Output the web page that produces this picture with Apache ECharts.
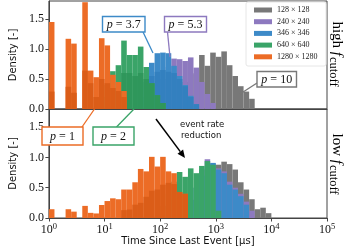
<!DOCTYPE html>
<html><head><meta charset="utf-8">
<script src="https://cdn.jsdelivr.net/npm/echarts@6/dist/echarts.min.js"></script>
<style>html,body{margin:0;padding:0;background:#fff}#c{width:349px;height:249px}</style>
</head><body><div id="c"></div>
<script>
// bins: 10 log-spaced bins per decade, bin k spans 10^(k/10) .. 10^((k+1)/10)
const binsPerDecade = 10;
const xTickValues = [1, 10, 100, 1000, 10000, 100000];
const yTickValues = [0, 0.5, 1.0, 1.5];
const legendNames = ['128 × 128', '240 × 240', '346 × 346', '640 × 640', '1280 × 1280'];

// ---- top panel (high f_cutoff) ----
const topGrayStart = 22;
const topGray = [0.15, 0.3, 0.45, 0.58, 0.6, 0.9, 0.72, 0.94, 0.87, 0.96, 0.73, 0.55, 0.38, 0.29, 0.17];
const topPurpleStart = 19;
const topPurple = [0.3, 0.5, 0.7, 0.84, 0.83, 0.8, 0.86, 0.69, 0.45, 0.25, 0.1];
const topBlueStart = 16;
const topBlue = [0.2, 0.45, 0.77, 0.93, 0.94, 0.93, 0.72, 0.55, 0.4, 0.22, 0.08];
const topBlueDarkStart = 18;
const topBlueDark = [0.55, 0.62, 0.65, 0.62, 0.6, 0.5, 0.38, 0.2, 0.08];
const topGreenStart = 9;
const topGreen = [0.2, 0.4, 0.63, 0.73, 1.14, 0.9, 0.9, 1.04, 0.7, 0.43, 0.23, 0.1];
const topGreenDarkStart = 13;
const topGreenDark = [0.6, 0.6, 0.55, 0.6, 0.5, 0.43, 0.23, 0.1];
const topOrangeStart = 0;
const topOrange = [1.45, 0, 0, 1.17, 1.09, 0, 1.78, 0.64, 0.53, 1.18, 1.06, 0.57, 0.45, 0.3];
const topOrangeDark = [0.29, 0, 0, 0.37, 0.27, 0, 0.64, 0.43, 0.2, 0.5, 0.43, 0.35, 0.3, 0.2];

// ---- bottom panel (low f_cutoff) ----
const botGrayStart = 26;
const botGray = [0.3, 0.5, 0.8, 0.85, 0.88, 0.93, 0.89, 0.8, 0.59, 0.47, 0.31, 0.145, 0.17, 0.08];
const botPurpleStart = 25;
const botPurple = [0.3, 0.5, 0.8, 0.97, 0.9, 0.82, 0.77, 0.6, 0.5, 0.4, 0.27, 0.12];
const botBlueStart = 25;
const botBlue = [0.3, 0.5, 0.7, 0.85, 0.91, 0.8, 0.74, 0.55, 0.47, 0.36, 0.22];
const botGreenStart = 20;
const botGreen = [0.2, 0.4, 0.6, 0.76, 0.68, 0.82, 0.74, 0.86, 0.94, 0.88, 0.12];
const botOrangeStart = 0;
const botOrange = [0.145, 0, 0, 0.145, 0.105, 0, 0.2, 0.085, 0.075, 0.215, 0.28, 0.325, 0.31, 0.47, 0.47, 0.59, 0.81, 0.77, 1.01, 0.85, 1.01, 0.77, 0.74, 0.43, 0.4];
const botOrangeDarkStart = 13;
const botOrangeDark = [0.13, 0.14, 0.22, 0.25, 0.35, 0.45, 0.47, 0.55, 0.58, 0.56, 0.43, 0.4];

const C = {
  gray: '#787878', purple: '#8d79bf', blue: '#3d8ac8', blueDark: '#3380bf',
  green: '#3aa468', greenDark: '#2f975b', orange: '#ec6c26', orangeDark: '#db5d18'
};

function binData(start, vals) {
  const out = [];
  vals.forEach((v, i) => {
    if (v > 0) {
      const k = start + i;
      out.push([Math.pow(10, k / binsPerDecade), Math.pow(10, (k + 1) / binsPerDecade), v]);
    }
  });
  return out;
}
function renderItem(params, api) {
  const a = api.coord([api.value(0), api.value(2)]);
  const b = api.coord([api.value(1), 0]);
  return { type: 'rect', shape: { x: a[0], y: a[1], width: b[0] - a[0], height: b[1] - a[1] },
           style: { fill: api.visual('color') } };
}
function hist(name, start, vals, g, color) {
  return { type: 'custom', name: name, xAxisIndex: g, yAxisIndex: g, renderItem: renderItem,
           encode: { x: [0, 1], y: 2 }, itemStyle: { color: color }, data: binData(start, vals),
           silent: true, clip: true, animation: false };
}

const series = [
  hist(legendNames[0], topGrayStart, topGray, 0, C.gray),
  hist(legendNames[1], topPurpleStart, topPurple, 0, C.purple),
  hist(legendNames[2], topBlueStart, topBlue, 0, C.blue),
  hist('_bd0', topBlueDarkStart, topBlueDark, 0, C.blueDark),
  hist(legendNames[3], topGreenStart, topGreen, 0, C.green),
  hist('_gd0', topGreenDarkStart, topGreenDark, 0, C.greenDark),
  hist(legendNames[4], topOrangeStart, topOrange, 0, C.orange),
  hist('_od0', topOrangeStart, topOrangeDark, 0, C.orangeDark),
  hist(legendNames[0], botGrayStart, botGray, 1, C.gray),
  hist(legendNames[1], botPurpleStart, botPurple, 1, C.purple),
  hist(legendNames[2], botBlueStart, botBlue, 1, C.blue),
  hist(legendNames[3], botGreenStart, botGreen, 1, C.green),
  hist(legendNames[4], botOrangeStart, botOrange, 1, C.orange),
  hist('_od1', botOrangeDarkStart, botOrangeDark, 1, C.orangeDark)
];

const serif = 'Liberation Serif';
const sans = 'DejaVu Sans';
const axisCol = '#444';
function yAx(g) {
  return { gridIndex: g, type: 'value', min: 0, max: 1.8,
    name: 'Density [-]', nameLocation: 'middle', nameGap: 24, nameRotate: 90,
    nameTextStyle: { fontFamily: sans, fontSize: 10, color: '#111' },
    axisLine: { show: true, lineStyle: { color: axisCol } },
    axisTick: { show: true, length: 3.5, customValues: yTickValues, lineStyle: { color: axisCol } },
    axisLabel: { customValues: yTickValues, formatter: v => Number(v).toFixed(1), fontFamily: serif, fontSize: 12, color: '#111', margin: 5 },
    splitLine: { show: false } };
}
const chart = echarts.init(document.getElementById('c'), null, { renderer: 'canvas' });
const boxText = (t) => '{i|p} = ' + t;
const richP = { i: { fontStyle: 'italic', fontFamily: serif, fontSize: 12, color: '#111' } };
function box(x, y, w, h, col, t) {
  return [
    { type: 'rect', z: 100, shape: { x: x, y: y, width: w, height: h }, style: { fill: '#fff', stroke: col, lineWidth: 1.4 } },
    { type: 'text', z: 101, style: { x: x + w / 2, y: y + h / 2 + 0.5, text: boxText(t), rich: richP, font: '12px ' + serif, fill: '#111', textAlign: 'center', textVerticalAlign: 'middle' } }
  ];
}
function ln(x1, y1, x2, y2, col, w) {
  return { type: 'line', z: 99, shape: { x1: x1, y1: y1, x2: x2, y2: y2 }, style: { stroke: col, lineWidth: w || 1.3 } };
}
const sideRich = {
  n: { fontFamily: serif, fontSize: 15, color: '#111' },
  f: { fontFamily: serif, fontStyle: 'italic', fontSize: 15, color: '#111', padding: [0, 1, 0, 0] },
  s: { fontFamily: serif, fontSize: 12.5, color: '#111', padding: [7, 0, 0, 0] }
};
const graphics = [].concat(
  [{ type: 'rect', z: 1, shape: { x: 246, y: 2, width: 80, height: 64, r: 2 }, style: { fill: '#fff', stroke: '#e6e6e6', lineWidth: 1 } }],
  [ln(143, 32, 153, 53, C.blue), ln(167.5, 32, 170, 57, C.purple), ln(257, 83, 240, 94, C.gray),
   ln(82, 127, 94.5, 109, C.orange), ln(116.5, 127, 134, 109, C.green)],
  box(102.5, 16.5, 42.5, 15.5, C.blue, '3.7'),
  box(164.5, 16.5, 42, 15.5, C.purple, '5.3'),
  box(257, 71.5, 39.5, 15.5, C.gray, '10'),
  box(42, 127, 41, 18, C.orange, '1'),
  box(93, 127, 41, 18, C.green, '2'),
  [ln(156, 119, 180.3, 151.6, '#000', 1.5),
   { type: 'polygon', z: 100, shape: { points: [[185, 158], [177.5, 153.7], [183.1, 149.5]] }, style: { fill: '#000' } },
   { type: 'text', z: 100, style: { x: 180, y: 124.5, text: 'event rate', font: '8.5px ' + sans, fill: '#111', textAlign: 'left', textVerticalAlign: 'middle' } },
   { type: 'text', z: 100, style: { x: 181, y: 136, text: 'reduction', font: '8.5px ' + sans, fill: '#111', textAlign: 'left', textVerticalAlign: 'middle' } },
   { type: 'text', z: 100, x: 337, y: 54, rotation: -Math.PI / 2, style: { x: 0, y: 0, text: '{n|high }{f|f}{s|cutoff}', rich: sideRich, textAlign: 'center', textVerticalAlign: 'middle' } },
   { type: 'text', z: 100, x: 337, y: 164, rotation: -Math.PI / 2, style: { x: 0, y: 0, text: '{n|low }{f|f}{s|cutoff}', rich: sideRich, textAlign: 'center', textVerticalAlign: 'middle' } }
  ]
);

chart.setOption({
  animation: false,
  backgroundColor: '#fff',
  grid: [
    { left: 35, right: 22, top: 1, height: 108, show: true, borderColor: axisCol, borderWidth: 1, backgroundColor: 'transparent' },
    { left: 35, right: 22, top: 109, height: 109, show: true, borderColor: axisCol, borderWidth: 1, backgroundColor: 'transparent' }
  ],
  xAxis: [
    { gridIndex: 0, type: 'log', logBase: 10, min: 1, max: 100000,
      axisLine: { show: true, lineStyle: { color: axisCol } }, axisTick: { show: false }, axisLabel: { show: false },
      splitLine: { show: false }, minorTick: { show: false } },
    { gridIndex: 1, type: 'log', logBase: 10, min: 1, max: 100000,
      name: 'Time Since Last Event [μs]', nameLocation: 'middle', nameGap: 18,
      nameTextStyle: { fontFamily: sans, fontSize: 10, color: '#111' },
      axisLine: { show: true, lineStyle: { color: axisCol } },
      axisTick: { show: true, length: 3.5, customValues: xTickValues, lineStyle: { color: axisCol } },
      axisLabel: { customValues: xTickValues, margin: 4,
        formatter: v => '{b|10}{s|' + Math.round(Math.log10(v)) + '}',
        rich: { b: { fontFamily: serif, fontSize: 12, color: '#111' },
                s: { fontFamily: serif, fontSize: 8.5, color: '#111', padding: [0, 0, 7, 0] } } },
      splitLine: { show: false } }
  ],
  yAxis: [yAx(0), yAx(1)],
  legend: { z: 10, data: legendNames, orient: 'vertical', left: 254, top: 6, itemWidth: 18, itemHeight: 5, itemGap: 3.7,
    padding: 0, icon: 'rect', selectedMode: false, inactiveColor: '#ccc',
    textStyle: { fontFamily: serif, fontSize: 8, color: '#222', lineHeight: 8 } },
  series: series,
  graphic: { elements: graphics }
});
</script></body></html>
